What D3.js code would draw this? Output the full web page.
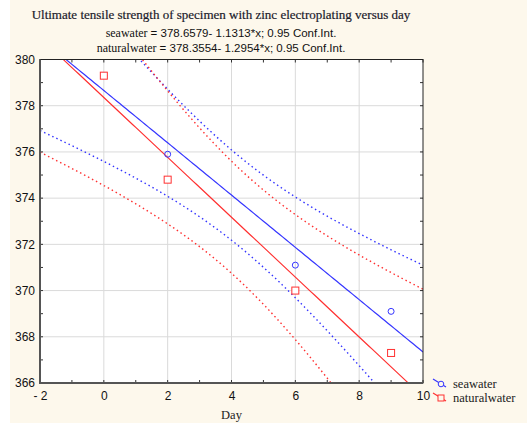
<!DOCTYPE html>
<html>
<head>
<meta charset="UTF-8">
<title>Ultimate tensile strength</title>
<style>
    body { margin: 0; background: #fff; }
    .tick text { font-family: 'Liberation Sans', Arial, sans-serif; font-size: 12px; fill: #111; }
    .serif { font-family: 'Liberation Serif', 'Times New Roman', serif; }
    .sans { font-family: 'Liberation Sans', Arial, sans-serif; }
</style>
</head>
<body>
<script src="https://d3js.org/d3.v7.min.js"></script>
<script>
// data
var days = [0, 2, 6, 9];
var seawater = [379.3, 375.9, 371.1, 369.1];
var naturalwater = [379.3, 374.8, 370.0, 367.3];
var seriesNames = ["seawater", "naturalwater"];
var seriesColors = ["#3535ff", "#ff3030"];
var xTicks = [-2, 0, 2, 4, 6, 8, 10];
var yTicks = [366, 368, 370, 372, 374, 376, 378, 380];
var tCrit = 4.303; // t(0.975, df=2)

var W = 527, H = 423;
var m = {left: 40, right: 104, top: 59.5, bottom: 40};

var svg = d3.select("body").append("svg")
    .attr("width", W).attr("height", H);

svg.append("rect").attr("x", 10).attr("y", 0)
    .attr("width", W - 10).attr("height", H).attr("fill", "#fdf8ec");

var x = d3.scaleLinear().domain([-2, 10]).range([m.left, W - m.right]);
var y = d3.scaleLinear().domain([366, 380]).range([H - m.bottom, m.top]);

// plot area
svg.append("rect")
    .attr("x", x(-2)).attr("y", y(380))
    .attr("width", x(10) - x(-2)).attr("height", y(366) - y(380))
    .attr("fill", "#fff");

svg.append("clipPath").attr("id", "clip").append("rect")
    .attr("x", x(-2)).attr("y", y(380))
    .attr("width", x(10) - x(-2)).attr("height", y(366) - y(380));

// grid
var grid = svg.append("g").attr("stroke", "#dadada").attr("stroke-width", 1);
grid.selectAll(".gx").data(xTicks.slice(1, -1)).enter().append("line")
    .attr("x1", d => x(d)).attr("x2", d => x(d))
    .attr("y1", y(380)).attr("y2", y(366));
grid.selectAll(".gy").data(yTicks.slice(1, -1)).enter().append("line")
    .attr("y1", d => y(d)).attr("y2", d => y(d))
    .attr("x1", x(-2)).attr("x2", x(10));

// axes
var xAxis = svg.append("g")
    .attr("transform", "translate(0," + y(366) + ")")
    .call(d3.axisBottom(x).tickValues(xTicks).tickSize(0).tickPadding(8)
        .tickFormat(d => d < 0 ? "- " + Math.abs(d) : d));
xAxis.select(".domain").remove();

var yAxis = svg.append("g")
    .attr("transform", "translate(" + x(-2) + ",0)")
    .call(d3.axisLeft(y).tickValues(yTicks).tickSize(0).tickPadding(5));
yAxis.select(".domain").remove();

// small inward ticks on every side
var unitsX = d3.range(-2, 11), unitsY = d3.range(366, 381);
var tk = svg.append("g").attr("stroke", "#333").attr("stroke-width", 1);
tk.selectAll(".tb").data(unitsX).enter().append("line")
    .attr("x1", d => x(d)).attr("x2", d => x(d))
    .attr("y1", y(366)).attr("y2", y(366) - 3);
tk.selectAll(".tt").data(unitsX).enter().append("line")
    .attr("x1", d => x(d)).attr("x2", d => x(d))
    .attr("y1", y(380)).attr("y2", y(380) + 3);
tk.selectAll(".tl").data(unitsY).enter().append("line")
    .attr("y1", d => y(d)).attr("y2", d => y(d))
    .attr("x1", x(-2)).attr("x2", x(-2) + 3);
tk.selectAll(".tr").data(unitsY).enter().append("line")
    .attr("y1", d => y(d)).attr("y2", d => y(d))
    .attr("x1", x(10)).attr("x2", x(10) - 3);

// linear fit + 95% confidence band
function fit(xs, ys) {
    var n = xs.length, mx = d3.mean(xs), my = d3.mean(ys);
    var sxx = d3.sum(xs, v => (v - mx) * (v - mx));
    var sxy = d3.sum(xs, (v, i) => (v - mx) * (ys[i] - my));
    var b = sxy / sxx, a = my - b * mx;
    var sse = d3.sum(xs, (v, i) => Math.pow(ys[i] - (a + b * v), 2));
    var s = Math.sqrt(sse / (n - 2));
    return {
        f: v => a + b * v,
        hw: v => tCrit * s * Math.sqrt(1 / n + (v - mx) * (v - mx) / sxx)
    };
}

var plot = svg.append("g").attr("clip-path", "url(#clip)");
var xs = d3.range(-2, 10.001, 0.1);
var line = d3.line().x(d => x(d[0])).y(d => y(d[1]));

[seawater, naturalwater].forEach(function(ys, k) {
    var r = fit(days, ys), c = seriesColors[k];
    plot.append("path").attr("fill", "none").attr("stroke", c).attr("stroke-width", 1.2)
        .attr("d", line(xs.map(v => [v, r.f(v)])));
    [1, -1].forEach(function(sg) {
        plot.append("path").attr("fill", "none").attr("stroke", c).attr("stroke-width", 1.4)
            .attr("stroke-dasharray", "1.5,3")
            .attr("d", line(xs.map(v => [v, r.f(v) + sg * r.hw(v)])));
    });
});

// points
svg.selectAll(".sea").data(days).enter().append("circle")
    .attr("cx", d => x(d)).attr("cy", (d, i) => y(seawater[i])).attr("r", 3)
    .attr("fill", "none").attr("stroke", seriesColors[0]).attr("stroke-width", 1);
svg.selectAll(".nat").data(days).enter().append("rect")
    .attr("x", d => x(d) - 3.5).attr("y", (d, i) => y(naturalwater[i]) - 3.5)
    .attr("width", 7).attr("height", 7)
    .attr("fill", "#fff").attr("stroke", seriesColors[1]).attr("stroke-width", 1);

// frame
svg.append("rect")
    .attr("x", x(-2)).attr("y", y(380))
    .attr("width", x(10) - x(-2)).attr("height", y(366) - y(380))
    .attr("fill", "none").attr("stroke", "#222").attr("stroke-width", 1);
svg.append("path")
    .attr("d", "M" + x(-2) + "," + y(380) + "V" + y(366) + "H" + x(10))
    .attr("fill", "none").attr("stroke", "#555").attr("stroke-width", 2);

// titles
svg.append("text").attr("class", "serif").attr("x", 221).attr("y", 19)
    .attr("text-anchor", "middle").attr("font-size", 13).attr("fill", "#1a1a2a")
    .attr("stroke", "#1a1a2a").attr("stroke-width", 0.2)
    .text("Ultimate tensile strength of specimen with zinc electroplating versus day");
var eqs = ["seawater", "naturalwater"];
var eqTxt = ["= 378.6579- 1.1313*x; 0.95 Conf.Int.", "= 378.3554- 1.2954*x; 0.95 Conf.Int."];
eqs.forEach(function(nm, i) {
    var t = svg.append("text").attr("x", 221).attr("y", 37 + i * 15)
        .attr("text-anchor", "middle").attr("font-size", 12).attr("fill", "#111");
    t.append("tspan").attr("class", "serif").text(nm + " ");
    t.append("tspan").attr("class", "sans").attr("font-size", 11.5).text(eqTxt[i]);
});

svg.append("text").attr("class", "serif").attr("x", x(4)).attr("y", 419)
    .attr("text-anchor", "middle").attr("font-size", 12.5).attr("fill", "#222").text("Day");

// legend
var lg = svg.append("g").attr("transform", "translate(432,380)");
seriesNames.forEach(function(nm, i) {
    var g = lg.append("g").attr("transform", "translate(0," + i * 14 + ")");
    g.append("line").attr("x1", 1).attr("y1", -1).attr("x2", 14).attr("y2", 7)
        .attr("stroke", seriesColors[i]).attr("stroke-width", 1.2);
    if (i === 0) {
        g.append("circle").attr("cx", 9).attr("cy", 4).attr("r", 2.8)
            .attr("fill", "#fdf8ec").attr("stroke", seriesColors[i]);
    } else {
        g.append("rect").attr("x", 6).attr("y", 1).attr("width", 6).attr("height", 6)
            .attr("fill", "#fdf8ec").attr("stroke", seriesColors[i]);
    }
    g.append("text").attr("class", "serif").attr("x", 21).attr("y", 8)
        .attr("font-size", 12.5).attr("fill", "#222").text(nm);
});
</script>
</body>
</html>
